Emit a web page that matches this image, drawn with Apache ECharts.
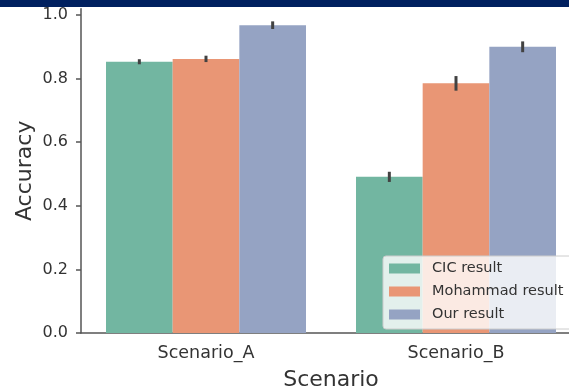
<!DOCTYPE html>
<html>
<head>
<meta charset="utf-8">
<script src="https://cdn.jsdelivr.net/npm/echarts@6/dist/echarts.min.js"></script>
<style>
  html, body { margin: 0; padding: 0; background: #fff; overflow: hidden; }
  #chart { width: 600px; height: 390px; }
</style>
</head>
<body>
<div id="chart"></div>
<script>
// Accuracy per scenario for the three approaches
const categories = ['Scenario_A', 'Scenario_B'];
const seriesNames = ['CIC result', 'Mohammad result', 'Our result'];
const cicValues = [0.853, 0.491];
const mohammadValues = [0.862, 0.785];
const ourValues = [0.968, 0.900];
// half-length of the error bars
const cicErr = [0.008, 0.016];
const mohammadErr = [0.010, 0.023];
const ourErr = [0.012, 0.017];
const yTicks = [0, 0.2, 0.4, 0.6, 0.8, 1.0];

const colors = ['#72b6a1', '#e99675', '#95a3c3'];
const FONT = 'DejaVu Sans';
const TEXT = '#333333';
const AXIS = '#555555';

const valueSets = [cicValues, mohammadValues, ourValues];
const errSets = [cicErr, mohammadErr, ourErr];
const groupFraction = 0.8;

const barSeries = valueSets.map((vals, k) => ({
  name: seriesNames[k],
  type: 'bar',
  data: vals,
  itemStyle: { color: colors[k] },
  barGap: '0%',
  barCategoryGap: '20%',
  emphasis: { disabled: true },
  z: 2
}));

const errSeries = errSets.map((errs, k) => ({
  type: 'custom',
  name: 'err' + k,
  data: valueSets[k].map((v, i) => [i, v - errs[i], v + errs[i]]),
  renderItem: function (params, api) {
    const bandW = api.size([1, 0])[0];
    const barW = bandW * groupFraction / 3;
    const off = (k - 1) * barW;
    const lo = api.coord([api.value(0), api.value(1)]);
    const hi = api.coord([api.value(0), api.value(2)]);
    return {
      type: 'line',
      shape: { x1: lo[0] + off, y1: lo[1], x2: hi[0] + off, y2: hi[1] },
      style: { stroke: '#424242', lineWidth: 3 }
    };
  },
  encode: { x: 0, y: [1, 2] },
  silent: true,
  z: 3
}));

const chart = echarts.init(document.getElementById('chart'), null, { renderer: 'canvas' });
chart.setOption({
  animation: false,
  textStyle: { fontFamily: FONT },
  grid: {
    left: 81, top: 8.64, width: 500, height: 324.36,
    containLabel: false,
    outerBoundsMode: 'none'
  },
  xAxis: {
    type: 'category',
    data: categories,
    name: 'Scenario',
    nameLocation: 'middle',
    nameGap: 36,
    nameTextStyle: { fontFamily: FONT, fontSize: 22, color: TEXT },
    axisLine: { lineStyle: { color: AXIS, width: 1.5 } },
    axisTick: { alignWithLabel: true, length: 5, lineStyle: { color: AXIS, width: 1.5 } },
    axisLabel: { fontFamily: FONT, fontSize: 17.5, color: TEXT, margin: 11 },
    splitLine: { show: false }
  },
  yAxis: {
    type: 'value',
    min: 0,
    max: 1.02,
    name: 'Accuracy',
    nameLocation: 'middle',
    nameGap: 45,
    nameMoveOverlap: false,
    nameTextStyle: { fontFamily: FONT, fontSize: 22, color: TEXT },
    axisLine: { show: true, lineStyle: { color: AXIS, width: 1.5 } },
    axisTick: { show: true, length: 5, customValues: yTicks, lineStyle: { color: AXIS, width: 1.5 } },
    axisLabel: {
      fontFamily: FONT, fontSize: 16, color: TEXT, margin: 13,
      customValues: yTicks,
      formatter: v => v.toFixed(1)
    },
    splitLine: { show: false }
  },
  legend: {
    data: seriesNames,
    orient: 'vertical',
    left: 383,
    top: 256,
    itemWidth: 31,
    itemHeight: 10,
    itemGap: 8,
    icon: 'rect',
    padding: [5, 12, 7, 6],
    backgroundColor: 'rgba(255,255,255,0.8)',
    borderColor: '#cccccc',
    borderWidth: 1,
    borderRadius: 3,
    textStyle: { fontFamily: FONT, fontSize: 14.5, color: TEXT, lineHeight: 14, padding: [0, 0, 0, 7] },
    selectedMode: false,
    z: 10
  },
  series: barSeries.concat(errSeries),
  graphic: [{
    type: 'rect',
    left: 0,
    top: 0,
    shape: { width: 600, height: 7 },
    style: { fill: '#00205f' },
    z: 100
  }]
});
</script>
</body>
</html>
